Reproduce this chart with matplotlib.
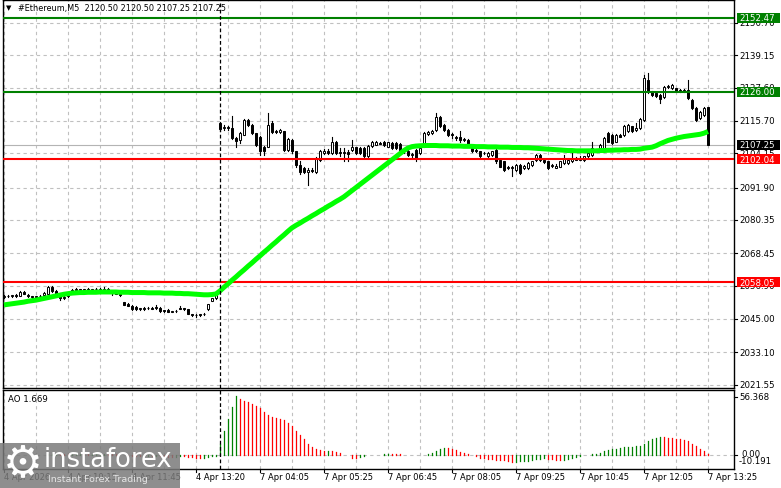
import matplotlib
matplotlib.use('Agg')
import matplotlib.pyplot as plt
from matplotlib.patches import Rectangle
from matplotlib.lines import Line2D

# ---------------- data ----------------
opens = [2052.9, 2053.2, 2053.0, 2053.4, 2053.3, 2054.5, 2053.7, 2053.0, 2052.8, 2053.0,
         2053.4, 2053.8, 2056.4, 2055.0, 2054.2, 2052.4, 2053.0, 2054.9, 2055.4, 2055.5,
         2055.3, 2055.6, 2055.4, 2055.6, 2055.6, 2055.4, 2055.8, 2054.6, 2054.3, 2054.0,
         2051.0, 2050.4, 2049.7, 2049.4, 2048.6, 2048.9, 2048.8, 2048.9, 2049.3, 2049.0,
         2048.0, 2048.3, 2047.6, 2047.9, 2049.0, 2048.8, 2048.5, 2046.6, 2046.5, 2046.6,
         2046.6, 2048.4, 2051.5, 2052.5,
         2115.1, 2113.1, 2113.5, 2113.1, 2109.5, 2108.9, 2110.7, 2116.0, 2114.3, 2111.3,
         2110.1, 2106.5, 2106.5, 2114.8, 2112.2, 2111.6, 2111.9, 2105.4, 2108.9, 2104.8,
         2100.0, 2098.8, 2097.6, 2098.2, 2097.6, 2101.8, 2104.2, 2105.1, 2104.2, 2108.3,
         2104.6, 2104.2, 2104.6, 2105.4, 2106.2, 2106.0, 2106.0, 2103.0, 2106.8, 2107.1,
         2107.9, 2108.3, 2106.5, 2107.7, 2107.7, 2107.5, 2105.4, 2104.9, 2103.6, 2105.4,
         2104.2, 2106.5, 2111.1, 2111.3, 2112.5,
         2117.2, 2114.3, 2112.5, 2110.9, 2110.1, 2110.1, 2108.9, 2108.9, 2106.0, 2105.4,
         2104.8, 2104.2, 2103.0, 2103.6, 2105.4, 2101.8, 2101.2, 2099.4, 2098.9, 2098.2,
         2100.0, 2098.9, 2098.9, 2100.0, 2101.8, 2103.6, 2101.8, 2101.2, 2099.7, 2099.0,
         2099.4, 2100.6, 2100.6, 2101.2, 2102.4, 2101.9, 2101.8, 2103.0, 2103.6, 2105.4,
         2106.0, 2106.0, 2111.3, 2110.7, 2108.3, 2110.7, 2110.7, 2111.9, 2113.7, 2112.5,
         2113.1, 2116.0, 2130.3, 2126.1, 2125.5, 2124.9, 2124.3, 2127.9, 2127.3, 2127.3,
         2126.7, 2126.3, 2126.7, 2123.2, 2120.2, 2116.6, 2117.8, 2120.50]
highs = [2053.5, 2053.6, 2053.7, 2053.8, 2054.8, 2054.9, 2053.8, 2053.1, 2053.3, 2053.5,
         2054.6, 2056.9, 2056.7, 2055.2, 2054.4, 2053.2, 2054.6, 2055.7, 2055.9, 2055.8,
         2055.8, 2055.9, 2055.8, 2056.0, 2056.2, 2056.4, 2056.1, 2055.1, 2054.6, 2054.2,
         2051.2, 2050.8, 2050.0, 2049.6, 2049.0, 2049.2, 2049.1, 2049.1, 2049.8, 2049.2,
         2048.3, 2048.5, 2047.9, 2048.1, 2049.5, 2049.0, 2048.7, 2046.8, 2046.7, 2046.8,
         2047.0, 2050.4, 2052.6, 2053.8,
         2115.3, 2114.3, 2113.9, 2117.5, 2109.8, 2111.6, 2116.3, 2116.5, 2114.6, 2111.5,
         2110.4, 2106.8, 2118.6, 2115.5, 2112.6, 2112.9, 2112.1, 2109.5, 2109.2, 2105.0,
         2101.2, 2099.2, 2098.9, 2098.9, 2102.7, 2105.2, 2105.6, 2105.8, 2109.9, 2108.6,
         2106.0, 2106.0, 2105.4, 2108.9, 2106.5, 2106.3, 2106.2, 2107.0, 2108.5, 2108.4,
         2108.2, 2108.6, 2108.3, 2108.0, 2108.0, 2107.8, 2106.0, 2105.2, 2104.2, 2105.7,
         2106.4, 2111.6, 2112.0, 2112.3, 2118.4,
         2117.5, 2114.6, 2112.8, 2111.3, 2110.4, 2111.9, 2109.5, 2109.2, 2106.3, 2105.7,
         2105.0, 2104.6, 2104.5, 2105.1, 2105.6, 2102.0, 2101.4, 2099.7, 2099.7, 2100.3,
         2100.3, 2100.0, 2100.9, 2101.5, 2103.9, 2103.9, 2102.2, 2101.5, 2100.3, 2100.4,
         2101.5, 2103.6, 2102.1, 2104.2, 2102.7, 2103.0, 2103.3, 2104.5, 2108.3, 2105.7,
         2107.5, 2109.8, 2111.6, 2111.0, 2111.0, 2111.0, 2114.2, 2114.6, 2114.0, 2114.9,
         2116.6, 2132.1, 2132.7, 2126.4, 2125.8, 2125.2, 2128.2, 2128.6, 2128.8, 2127.6,
         2127.0, 2126.9, 2130.3, 2123.5, 2120.5, 2119.3, 2120.8, 2120.50]
lows = [2052.6, 2052.8, 2052.8, 2052.9, 2053.1, 2053.8, 2052.7, 2052.3, 2052.6, 2052.8,
        2053.2, 2053.5, 2054.6, 2053.2, 2051.8, 2052.1, 2052.8, 2054.7, 2055.1, 2055.2,
        2055.0, 2055.3, 2055.1, 2055.3, 2054.9, 2055.2, 2055.0, 2053.7, 2053.9, 2053.3,
        2049.8, 2049.5, 2048.3, 2048.3, 2048.3, 2048.2, 2048.5, 2048.4, 2048.7, 2047.6,
        2047.6, 2047.4, 2047.4, 2047.6, 2048.4, 2048.3, 2046.6, 2045.9, 2045.8, 2046.0,
        2046.3, 2048.2, 2051.3, 2052.2,
        2112.2, 2112.3, 2112.6, 2109.2, 2106.5, 2107.7, 2110.5, 2114.0, 2111.0, 2106.8,
        2103.6, 2103.6, 2106.2, 2111.3, 2111.2, 2111.2, 2105.0, 2105.1, 2104.2, 2099.4,
        2096.8, 2097.1, 2092.9, 2097.3, 2097.2, 2101.5, 2103.8, 2104.0, 2104.0, 2103.8,
        2103.0, 2101.2, 2101.2, 2104.8, 2103.9, 2104.0, 2102.7, 2102.7, 2106.5, 2106.9,
        2107.3, 2106.8, 2106.2, 2105.7, 2105.6, 2105.0, 2104.4, 2103.3, 2102.5, 2101.2,
        2103.9, 2106.2, 2110.8, 2111.0, 2112.2,
        2113.4, 2112.2, 2110.3, 2109.5, 2109.0, 2108.3, 2108.6, 2106.9, 2104.5, 2104.6,
        2102.7, 2103.8, 2102.7, 2103.3, 2100.6, 2099.1, 2097.8, 2098.5, 2095.9, 2097.9,
        2096.8, 2098.6, 2098.6, 2099.7, 2101.5, 2101.5, 2100.7, 2098.5, 2099.4, 2098.7,
        2099.1, 2100.3, 2100.3, 2100.9, 2101.6, 2101.6, 2101.5, 2102.7, 2103.3, 2104.6,
        2105.7, 2105.7, 2108.0, 2107.4, 2108.0, 2109.8, 2110.4, 2111.6, 2111.6, 2112.2,
        2112.8, 2115.7, 2125.8, 2124.6, 2124.2, 2122.0, 2124.0, 2127.6, 2127.0, 2126.1,
        2126.0, 2126.0, 2123.5, 2119.9, 2115.5, 2116.3, 2117.5, 2107.25]
closes = [2053.2, 2053.0, 2053.4, 2053.2, 2054.5, 2054.0, 2053.0, 2052.8, 2053.0, 2053.3,
          2054.3, 2056.5, 2054.8, 2053.4, 2052.4, 2052.7, 2054.3, 2055.4, 2055.5, 2055.3,
          2055.6, 2055.4, 2055.6, 2055.5, 2055.3, 2055.8, 2055.3, 2054.3, 2054.0, 2053.5,
          2050.0, 2049.7, 2048.6, 2048.5, 2048.8, 2048.7, 2048.9, 2048.6, 2049.0, 2047.8,
          2047.9, 2047.6, 2047.7, 2047.8, 2048.7, 2048.6, 2046.8, 2046.4, 2046.3, 2046.5,
          2046.8, 2050.2, 2052.3, 2053.4,
          2112.7, 2113.5, 2113.0, 2109.5, 2108.4, 2111.3, 2116.0, 2114.3, 2111.3, 2107.1,
          2104.8, 2104.8, 2114.3, 2111.6, 2111.6, 2112.3, 2105.4, 2109.2, 2104.8, 2100.0,
          2097.3, 2097.6, 2098.2, 2097.8, 2102.4, 2104.8, 2105.1, 2104.4, 2108.3, 2104.2,
          2104.2, 2104.6, 2104.0, 2106.2, 2104.2, 2104.4, 2103.0, 2106.8, 2108.1, 2108.1,
          2107.6, 2107.1, 2108.0, 2106.0, 2106.0, 2105.4, 2104.9, 2103.6, 2103.8, 2102.4,
          2106.0, 2111.3, 2111.6, 2111.9, 2117.2,
          2113.7, 2112.5, 2110.7, 2110.5, 2109.4, 2108.9, 2109.0, 2107.2, 2104.8, 2104.9,
          2103.0, 2104.3, 2104.2, 2104.8, 2101.2, 2099.4, 2098.2, 2098.9, 2099.4, 2100.0,
          2097.1, 2099.7, 2100.6, 2101.2, 2103.6, 2101.8, 2101.0, 2098.9, 2100.0, 2099.5,
          2101.2, 2102.4, 2101.8, 2102.4, 2101.9, 2102.6, 2103.0, 2104.2, 2106.0, 2104.9,
          2107.2, 2109.5, 2108.3, 2107.7, 2110.7, 2110.1, 2113.9, 2114.3, 2111.9, 2113.0,
          2116.3, 2130.9, 2126.1, 2124.9, 2124.5, 2123.5, 2127.9, 2128.3, 2128.5, 2126.4,
          2126.3, 2126.6, 2123.8, 2120.2, 2116.0, 2119.0, 2120.2, 2107.25]

ma_values = [2050.0, 2050.2, 2050.4, 2050.6, 2050.8, 2051.0, 2051.3, 2051.5, 2051.7, 2052.0,
             2052.3, 2052.6, 2052.9, 2053.2, 2053.5, 2053.8, 2054.0, 2054.2,
             2054.3, 2054.4, 2054.4, 2054.5, 2054.5, 2054.5, 2054.6, 2054.6, 2054.6, 2054.6,
             2054.6, 2054.5, 2054.5, 2054.5, 2054.4, 2054.4, 2054.4, 2054.4, 2054.3, 2054.3,
             2054.3, 2054.3, 2054.2, 2054.2, 2054.2, 2054.1, 2054.1, 2054.0, 2054.0, 2053.9,
             2053.8,
             2053.7, 2053.6, 2053.6, 2053.7, 2053.9,
             2055.0, 2056.3, 2057.5, 2058.8, 2060.0, 2061.3, 2062.5, 2063.8, 2065.0, 2066.3,
             2067.5, 2068.8, 2070.0, 2071.3, 2072.5, 2073.8, 2075.0, 2076.3, 2077.5,
             2078.4, 2079.2, 2080.1, 2080.9, 2081.8, 2082.6, 2083.5, 2084.3, 2085.2, 2086.0,
             2086.9, 2087.7, 2088.6,
             2089.7, 2090.8, 2091.9, 2093.0, 2094.1, 2095.2, 2096.3, 2097.4, 2098.5, 2099.6,
             2100.7, 2101.8, 2102.9, 2104.0, 2105.1, 2106.0,
             2106.5, 2106.7, 2106.8, 2106.9, 2106.9, 2106.9, 2106.9,
             2106.8, 2106.8, 2106.8, 2106.7, 2106.7, 2106.7, 2106.6, 2106.6, 2106.6, 2106.5,
             2106.5, 2106.5, 2106.4, 2106.4, 2106.4, 2106.3, 2106.3, 2106.3, 2106.2, 2106.2,
             2106.2, 2106.1, 2106.1, 2106.0, 2105.9, 2105.8,
             2105.7, 2105.6, 2105.5, 2105.4, 2105.3, 2105.2, 2105.1, 2105.1, 2105.0, 2105.0,
             2105.0, 2105.0, 2105.0,
             2105.0, 2105.1, 2105.1, 2105.2, 2105.2, 2105.3, 2105.3, 2105.4, 2105.4, 2105.5,
             2105.5,
             2105.6, 2105.9, 2106.1, 2106.3, 2106.8, 2107.5, 2108.1, 2108.7, 2109.1, 2109.5,
             2109.8, 2110.1, 2110.3, 2110.5, 2110.7, 2110.9, 2111.3, 2111.9]

ao_values = [0.4, 0.3, 0.5, 0.6, 0.4, 0.3, 0.5, 0.7, 0.6, 0.5,
             0.6, 0.9, 1.2, 1.3, 1.1, 0.9, 0.8, 0.9, 1.0, 1.1,
             1.0, 0.9, 1.0, 1.1, 1.2, 1.3, 1.2, 1.0, 0.8, 0.6,
             0.2, -0.3, -0.6, -0.8, -0.9, -0.8, -0.7, -0.8, -0.7, -0.9,
             -1.1, -1.2, -1.3, -1.2, -1.0, -1.1, -1.5, -1.9, -2.2, -2.4,
             -2.1, -1.8, -1.0, -0.2,
             10.5, 23.1, 34.2, 45.9, 56.4, 53.2, 51.6, 50.7, 48.5, 46.9,
             45.0, 41.2, 38.3, 36.4, 35.2, 34.5, 33.3, 30.7, 27.6, 23.4,
             19.6, 15.5, 11.1, 7.9, 6.0, 5.4, 4.1, 4.3, 4.0, 3.2,
             2.2, 0.3, 0.2, -2.2, -2.9, -1.5, -0.5,
             0.1, 0.2, 0.3, 0.5, 1.0, 1.5, 1.3, 1.2, 1.1, 0.6, 0.5, 0.3, 0.1, 0.0,
             0.6, 1.3, 2.5, 4.4, 6.0, 7.3, 7.0, 6.3, 4.8, 3.5, 2.2, 1.6,
             0.6, -0.5, -2.2, -2.9, -3.3, -3.6, -4.0, -4.3, -4.6, -5.4, -6.3,
             -6.0, -5.7, -5.4, -5.0, -4.1, -3.5, -3.2, -3.0,
             -3.5, -3.8, -4.1, -4.4,
             -4.1, -3.2, -2.5, -1.6, -0.5, 0.0, 0.3, 0.9, 1.6, 2.5,
             3.8, 5.1, 6.0, 6.3, 7.0, 7.6, 7.9, 8.2, 8.9, 9.2,
             11.1, 13.9, 15.8, 16.8, 17.4,
             17.3, 16.9, 16.7, 15.6, 15.4, 14.9, 13.6, 11.1, 8.9, 6.0, 4.1, 1.669]

n = len(closes)
assert len(opens) == n and len(highs) == n and len(lows) == n
assert len(ma_values) == n and len(ao_values) == n

price_ticks = [2150.70, 2139.15, 2127.60, 2115.70, 2104.15, 2091.90,
               2080.35, 2068.45, 2056.90, 2045.00, 2033.10, 2021.55]
levels_green = [2152.47, 2126.00]
levels_red = [2102.04, 2058.05]
current_price = 2107.25
separator_bar = 54
time_label_bars = [0, 16, 32, 48, 64, 80, 96, 112, 128, 144, 160, 176]
time_labels = ['4 Apr 2026', '4 Apr 10:15', '4 Apr 11:45', '4 Apr 13:20',
               '7 Apr 04:05', '7 Apr 05:25', '7 Apr 06:45', '7 Apr 08:05',
               '7 Apr 09:25', '7 Apr 10:45', '7 Apr 12:05', '7 Apr 13:25']
title = '#Ethereum,M5  2120.50 2120.50 2107.25 2107.25'
ao_label = 'AO 1.669'
ao_max_label, ao_min_label = '56.368', '-10.191'

# ---------------- figure ----------------
W, H = 781, 489
fig = plt.figure(figsize=(W / 100, H / 100), dpi=100)
fig.patch.set_facecolor('white')
plt.rcParams['font.family'] = ['DejaVu Sans']

def fx(px):
    return px / W

def fy(py):
    return 1 - py / H

ax = fig.add_axes([fx(3), fy(389), fx(734) - fx(3), fy(1) - fy(389)])
ao = fig.add_axes([fx(3), fy(470), fx(734) - fx(3), fy(391) - fy(470)])

P0, PS = 2159.2, 0.357          # price = P0 - PS * pixel_y
ax.set_ylim(P0 - PS * 389, P0 - PS * 1)
xlim = (-0.25, 182.5)
ax.set_xlim(*xlim)
ao.set_xlim(*xlim)
ao.set_ylim(-13.0, 62.1)

grid_kw = dict(color='#c0c0c0', lw=0.8, ls=(0, (3, 3)), zorder=0.5)
for a in (ax, ao):
    for g in range(0, 177, 8):
        a.axvline(g, **grid_kw)
    for s in a.spines.values():
        s.set_color('black')
        s.set_linewidth(1.0)
    a.set_xticks([])
    a.set_yticks([])
for t in price_ticks:
    ax.axhline(t, **grid_kw)
ao.axhline(0, **grid_kw)

# level lines
for lv in levels_green:
    ax.axhline(lv, color='#008000', lw=1.5, zorder=3)
for lv in levels_red:
    ax.axhline(lv, color='#ff0000', lw=1.5, zorder=3)
ax.axhline(current_price, color='#b4b4b4', lw=0.8, zorder=1)

# candles
bw = 0.62
for i in range(n):
    o, h, l, c = opens[i], highs[i], lows[i], closes[i]
    ax.add_line(Line2D([i, i], [l, h], color='black', lw=0.8, zorder=2))
    bottom = min(o, c)
    height = max(abs(c - o), 0.18)
    fc = 'white' if c >= o else 'black'
    ax.add_patch(Rectangle((i - bw / 2, bottom), bw, height, facecolor=fc,
                           edgecolor='black', lw=0.7, zorder=2.2))

# moving average
ax.plot(range(n), ma_values, color='#00ff00', lw=3.6, solid_capstyle='butt',
        solid_joinstyle='round', zorder=4)

# separator
for a in (ax, ao):
    a.axvline(separator_bar, color='black', lw=0.9, ls=(0, (3, 2)), zorder=5)

# AO histogram
for i in range(n):
    prev = ao_values[i - 1] if i > 0 else ao_values[i]
    col = '#008000' if ao_values[i] >= prev else '#ff0000'
    ao.add_line(Line2D([i, i], [0, ao_values[i]], color=col, lw=0.9, zorder=2))

# ---------------- texts ----------------
fs = 6.2
# price axis tick marks & labels
for t in price_ticks:
    y = (P0 - t) / PS
    fig.add_artist(Line2D([fx(734), fx(737)], [fy(y), fy(y)], color='black', lw=0.8))
    fig.text(fx(739), fy(y), f'{t:.2f}', fontsize=fs, ha='left', va='center', color='black')

def level_box(value, bg, fg='white'):
    y = (P0 - value) / PS
    fig.add_artist(Rectangle((fx(737), fy(y + 5)), fx(43), fy(y - 5) - fy(y + 5),
                             facecolor=bg, edgecolor='none', transform=fig.transFigure, zorder=5))
    fig.text(fx(739), fy(y), f'{value:.2f}', fontsize=fs, ha='left', va='center',
             color=fg, zorder=6)

for lv in levels_green:
    level_box(lv, '#008000')
level_box(current_price, 'black')
for lv in levels_red:
    level_box(lv, '#ff0000')

# AO axis labels
ao_zero_y = 456.3
fig.text(fx(739), fy(398), ao_max_label, fontsize=fs, ha='left', va='center')
fig.text(fx(741), fy(455), '0.00', fontsize=fs, ha='left', va='center')
fig.text(fx(739), fy(462), ao_min_label, fontsize=fs, ha='left', va='center')
fig.add_artist(Line2D([fx(734), fx(737)], [fy(398), fy(398)], color='black', lw=0.8))
fig.add_artist(Line2D([fx(734), fx(737)], [fy(ao_zero_y), fy(ao_zero_y)], color='black', lw=0.8))
fig.text(fx(8), fy(400), ao_label, fontsize=fs, ha='left', va='center')

# title
fig.text(fx(6), fy(8.5), '\u25bc', fontsize=5, ha='left', va='center')
fig.text(fx(18), fy(8.5), title, fontsize=5.9, ha='left', va='center')

# time labels
for b, lab in zip(time_label_bars, time_labels):
    xp = 4 + 4 * b
    fig.add_artist(Line2D([fx(xp), fx(xp)], [fy(470), fy(473)], color='black', lw=0.8))
    fig.text(fx(xp), fy(477.5), lab, fontsize=6.0, ha='left', va='center')

# watermark
fig.add_artist(Rectangle((0, fy(489)), fx(180), fy(444) - fy(489), facecolor='#7a7a7a',
                         alpha=0.85, edgecolor='none', transform=fig.transFigure, zorder=8))
fig.text(fx(23), fy(464), '\u2699', fontsize=32, color='white', ha='center', va='center', zorder=9)
fig.text(fx(44), fy(460), 'instaforex', fontsize=18.5, color='white', ha='left', va='center', zorder=9)
fig.text(fx(48), fy(480), 'Instant Forex Trading', fontsize=6.8, color='#e6e6e6',
         ha='left', va='center', zorder=9)

fig.savefig('out.png', dpi=100)
